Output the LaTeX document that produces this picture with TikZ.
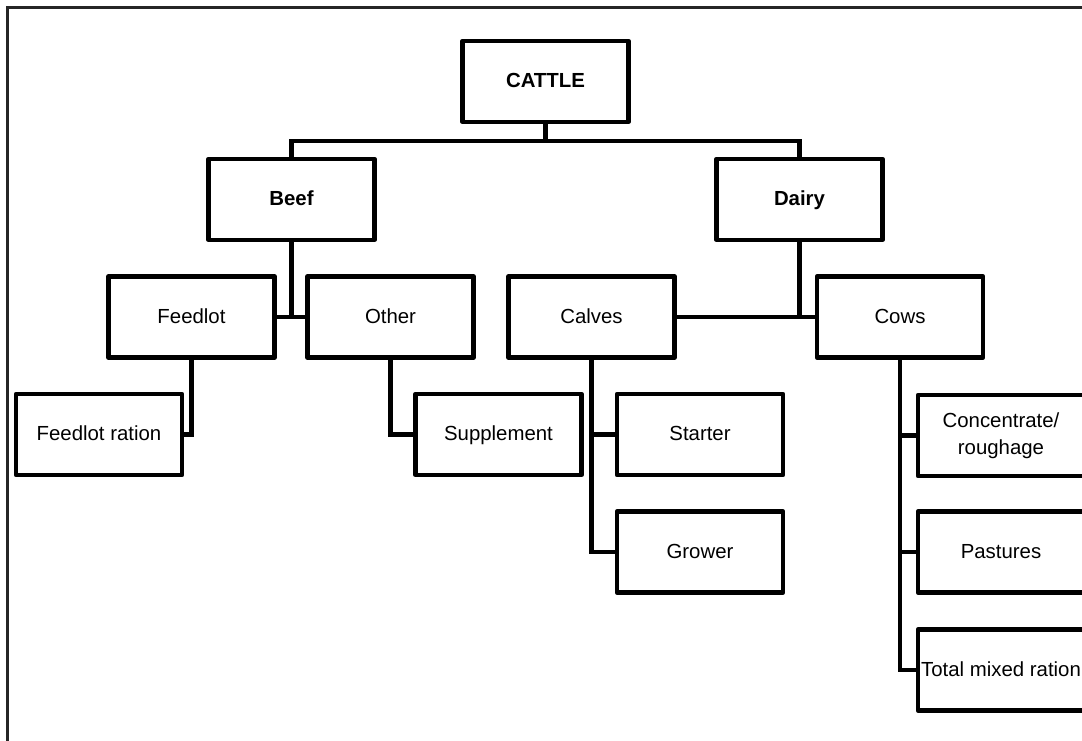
\documentclass[tikz,border=0pt]{standalone}
\usepackage{fontspec}
\setmainfont{Liberation Sans}
\usetikzlibrary{positioning}

\begin{document}
\begin{tikzpicture}[x=0.025cm, y=-0.025cm,
    box/.style={draw, line width=3.2pt, line join=round, rectangle,
                minimum width=4.15cm, minimum height=2.02cm, inner sep=0pt,
                font=\fontsize{14.5}{19.5}\selectfont, align=center},
    leaf/.style={box, text height=0.9em, text depth=0pt},
    head/.style={leaf, font=\fontsize{14.5}{19.5}\selectfont\bfseries},
    link/.style={line width=3.2pt}]
    \useasboundingbox (0,0) rectangle (1082,741);
    \draw[line width=0.06cm, black!85] (7.5,745) -- (7.5,7.5) -- (1090,7.5);

    \node[head] (cattle) at (545.5,81.5) {CATTLE};
    \node[head] (beef)   at (291.5,199.5) {Beef};
    \node[head] (dairy)  at (799.5,199.5) {Dairy};

    \node[leaf] (feedlot) at (191.5,317) {Feedlot};
    \node[leaf] (other)   at (390.5,317) {Other};
    \node[leaf] (calves)  at (591.5,317) {Calves};
    \node[leaf] (cows)    at (900,317) {Cows};

    \node[leaf] (fration)    at (99,434.5)  {Feedlot ration};
    \node[leaf] (supplement) at (498.5,434.5) {Supplement};
    \node[leaf] (starter)    at (700,434.5) {Starter};
    \node[leaf] (grower)     at (700,552)   {Grower};
    \node[box]  (conc)       at (1001,435.5) {Concentrate/\\roughage};
    \node[leaf] (pastures)   at (1001,552)  {Pastures};
    \node[leaf] (tmr)        at (1001,670)  {Total mixed ration};

    \coordinate (bus) at (cattle |- 0,141);
    \draw[link] (cattle) -- (bus);
    \draw[link] (beef) |- (bus) -| (dairy);

    \draw[link] (beef) -- (beef |- feedlot);
    \draw[link] (feedlot) -- (other);
    \draw[link] (dairy) -- (dairy |- cows);
    \draw[link] (calves) -- (cows);

    \draw[link] (feedlot) |- (fration);
    \draw[link] (other) |- (supplement);
    \foreach \kid in {starter,grower}
    \draw[link] (calves) |- (\kid);
    \foreach \kid in {conc,pastures,tmr}
    \draw[link] (cows) |- (\kid);
\end{tikzpicture}
\end{document}
